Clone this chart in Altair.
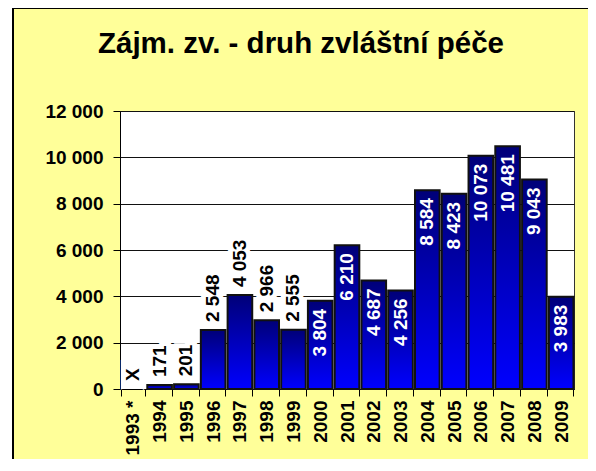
import altair as alt
import pandas as pd

# ---- data ----
years = ["1993 *", "1994", "1995", "1996", "1997", "1998", "1999", "2000",
         "2001", "2002", "2003", "2004", "2005", "2006", "2007", "2008", "2009"]
values = [None, 171, 201, 2548, 4053, 2966, 2555, 3804,
          6210, 4687, 4256, 8584, 8423, 10073, 10481, 9043, 3983]
# labels drawn above the bar (black) vs. inside the bar (white)
outside_years = ["1993 *", "1994", "1995", "1996", "1997", "1998", "1999"]
y_ticks = [0, 2000, 4000, 6000, 8000, 10000, 12000]


def fmt(v):
    return "X" if v is None else f"{v:,}".replace(",", " ")


df = pd.DataFrame({
    "year": years,
    "value": values,
    "ypos": [0 if v is None else v for v in values],
    "label": [fmt(v) for v in values],
    "outside": [y in outside_years for y in years],
})

W, H = 454, 278
PAD = {"left": 112, "top": 103, "right": 14, "bottom": 70}
FONT = "Liberation Sans"
FS = 19
YELLOW = "#FFFF99"

x_enc = alt.X(
    "year:N", sort=years, title=None,
    scale=alt.Scale(paddingInner=0.08, paddingOuter=0.02),
    axis=alt.Axis(labelAngle=270, labelAlign="right", labelBaseline="middle",
                  tickBand="extent", tickSize=7, labelPadding=4,
                  labelFont=FONT, labelFontSize=FS, labelFontWeight="bold",
                  labelColor="black", domainColor="black", tickColor="black",
                  grid=False),
)
y_enc = alt.Y(
    "ypos:Q", title=None,
    scale=alt.Scale(domain=[0, 12000], nice=False),
    axis=alt.Axis(values=y_ticks, grid=True, gridColor="#111", gridWidth=1,
                  tickSize=7, labelPadding=10, tickColor="black",
                  domainColor="black",
                  labelFont=FONT, labelFontSize=FS, labelFontWeight="bold",
                  labelColor="black",
                  labelExpr="replace(format(datum.value, ','), ',', ' ')"),
)

gradient = alt.Gradient(
    gradient="linear", x1=0, y1=0, x2=0, y2=1,
    stops=[alt.GradientStop(offset=0, color="#000078"),
           alt.GradientStop(offset=1, color="#0000FF")],
)

base = alt.Chart(df)

bars = base.transform_filter("datum.value != null").mark_bar(
    fill=gradient, stroke="#111", strokeWidth=2
).encode(x=x_enc, y=y_enc)

out_src = base.transform_filter("datum.outside")
halo = out_src.mark_text(
    angle=270, align="left", baseline="middle", dx=8,
    font=FONT, fontSize=FS, fontWeight="bold",
    fill="white", stroke="white", strokeWidth=10, strokeJoin="miter",
).encode(x=x_enc, y=y_enc, text="label:N")
out_text = out_src.mark_text(
    angle=270, align="left", baseline="middle", dx=8,
    font=FONT, fontSize=FS, fontWeight="bold", color="black",
).encode(x=x_enc, y=y_enc, text="label:N")

in_text = base.transform_filter("!datum.outside").mark_text(
    angle=270, align="right", baseline="middle", dx=-8,
    font=FONT, fontSize=FS, fontWeight="bold", color="white",
).encode(x=x_enc, y=y_enc, text="label:N")

# frame of the yellow panel (left and top edges)
total_h = PAD["top"] + H + PAD["bottom"]
left_blank = alt.Chart(df).mark_rule(color="white", strokeWidth=5).encode(
    x=alt.value(-PAD["left"] + 2.5), y=alt.value(-PAD["top"]),
    y2=alt.value(total_h - PAD["top"]))
left_edge = alt.Chart(df).mark_rule(color="black", strokeWidth=1).encode(
    x=alt.value(-PAD["left"] + 5), y=alt.value(-PAD["top"]),
    y2=alt.value(total_h - PAD["top"]))
top_edge = alt.Chart(df).mark_rule(color="black", strokeWidth=1).encode(
    x=alt.value(-PAD["left"] + 5), x2=alt.value(W + PAD["right"]),
    y=alt.value(-PAD["top"] + 0.5))

chart = alt.layer(
    bars, halo, out_text, in_text, left_blank, left_edge, top_edge
).properties(
    width=W, height=H,
    title=alt.TitleParams(
        "Zájm. zv. - druh zvláštní péče", font=FONT, fontSize=29.5,
        fontWeight="bold", color="black", anchor="middle", dx=-46,
        baseline="alphabetic", offset=0, dy=77),
    autosize=alt.AutoSizeParams(type="none"),
    padding=PAD,
    background=YELLOW,
).configure_view(
    fill="white", stroke="#333", strokeWidth=1
)

chart.save("out.html", embed_options={"renderer": "svg", "actions": False})
